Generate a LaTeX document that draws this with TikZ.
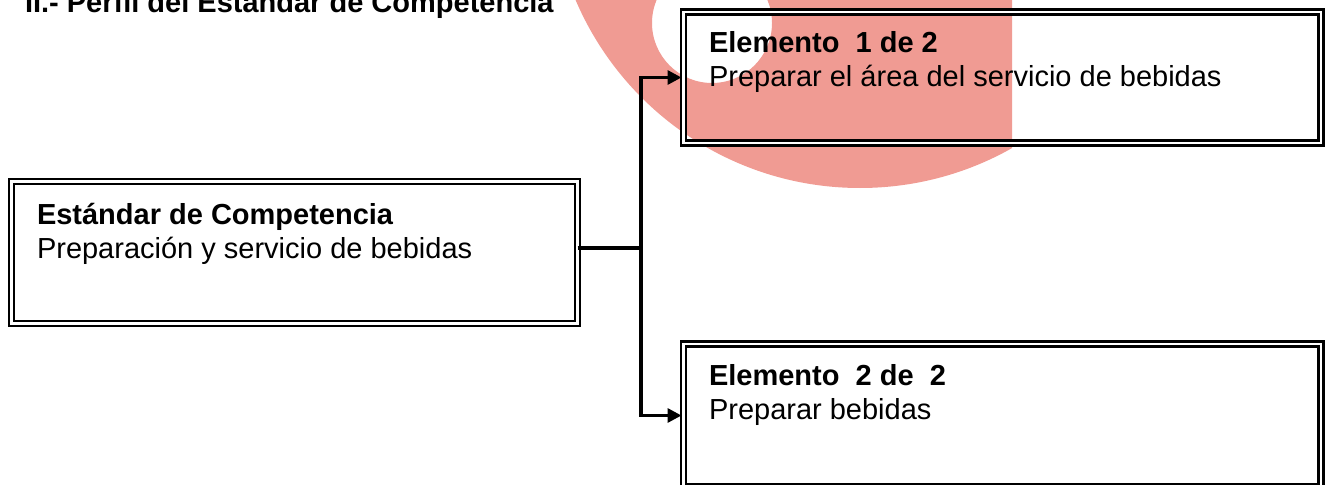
\documentclass[tikz,border=0pt]{standalone}
\usepackage{fontspec}
\setmainfont{Liberation Sans}
\usetikzlibrary{arrows.meta}
\definecolor{salmon}{RGB}{240,155,147}
\begin{document}
\begin{tikzpicture}[x=0.75pt,y=-0.75pt,
  box/.style={draw=black, line width=1.6pt, double=white, double distance=2.2pt,
    rectangle, inner sep=0pt, outer sep=0pt},
  lbl/.style={inner sep=0pt, outer sep=0pt, anchor=base west,
    font=\fontsize{21.75pt}{25.5pt}\selectfont},
  conn/.style={line width=2.4pt},
  tip/.style={-{Triangle[length=10.5pt,width=10.5pt]}, shorten >=1.5pt}]
\useasboundingbox (0,0) rectangle (1325,485);
\clip (0,0) rectangle (1325,485);
% background logo shape
\begin{scope}
  \clip (0,0) rectangle (1012,485);
  \fill[salmon, even odd rule] (860,-121) circle (231.75pt) (712,23) circle (45pt);
\end{scope}
% title
\node[lbl] (title) at (25,13) {\bfseries II.- Perfil del Estándar de Competencia};
% boxes
\node[box, minimum width=424.5pt, minimum height=106.5pt] (est) at (294.5,252.5) {};
\node[box, minimum width=478.1pt, minimum height=98.25pt] (e1) at (1002.25,77.5) {};
\node[box, minimum width=478.1pt, minimum height=107.25pt] (e2) at (1002.25,415.5) {};
% texts
\node[lbl] (estA) at (37,224) {\bfseries Estándar de Competencia};
\node[lbl] (estB) at (37,258) {Preparación y servicio de bebidas};
\node[lbl] (e1A) at (709,53) {\bfseries Elemento\ \ 1 de 2};
\node[lbl] (e1B) at (709,87) {Preparar el área del servicio de bebidas};
\node[lbl] (e2A) at (709,385) {\bfseries Elemento\ \ 2 de\ \ 2};
\node[lbl] (e2B) at (709,419) {Preparar bebidas};
% connectors
\coordinate (jn) at (641,248);
\draw[conn] (est.east |- jn) -- (jn);
\draw[conn, tip] (jn) |- (e1.west);
\draw[conn, tip] (jn) |- (e2.west);
\end{tikzpicture}
\end{document}
